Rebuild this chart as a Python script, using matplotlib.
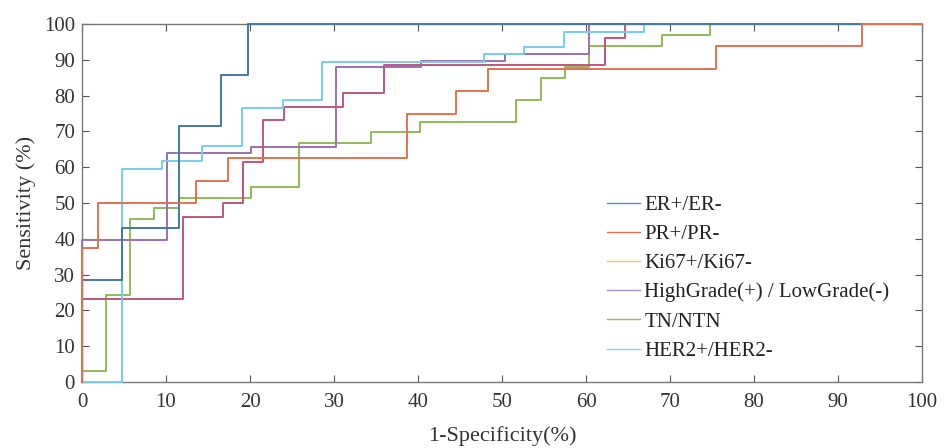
import matplotlib.pyplot as plt
from matplotlib.lines import Line2D

# ROC staircase corners (1-specificity %, sensitivity %), steps drawn 'post'
er_x = [0, 0, 4.8, 11.5, 16.5, 19.7, 100]
er_y = [0, 28.6, 42.9, 71.4, 85.7, 100, 100]

pr_x = [0, 0, 1.9, 13.6, 17.4, 38.7, 44.5, 48.3, 75.5, 92.9, 100]
pr_y = [0, 37.5, 50.0, 56.25, 62.5, 75.0, 81.25, 87.5, 93.75, 100, 100]

ki67_x = [0, 0, 12.0, 16.8, 19.2, 21.6, 24.0, 31.1, 35.9, 62.3, 64.7, 100]
ki67_y = [0, 23.1, 46.2, 50.0, 61.5, 73.1, 76.9, 80.8, 88.5, 96.2, 100, 100]

grade_x = [0, 0, 10.1, 20.1, 30.2, 40.4, 50.4, 60.4, 100]
grade_y = [0, 39.6, 63.9, 65.7, 87.9, 89.7, 91.5, 100, 100]

tn_x = [0, 0, 2.8, 5.7, 8.6, 11.5, 20.1, 25.8, 34.4, 40.2, 51.7, 54.6, 57.5, 60.4, 69.0, 74.8, 100]
tn_y = [0, 3.0, 24.2, 45.5, 48.5, 51.5, 54.5, 66.7, 69.7, 72.7, 78.8, 84.8, 87.9, 93.9, 97.0, 100, 100]

her2_x = [0, 4.8, 9.5, 14.3, 19.1, 23.9, 28.6, 47.8, 52.6, 57.4, 66.9, 100]
her2_y = [0, 59.6, 61.7, 66.0, 76.6, 78.7, 89.4, 91.5, 93.6, 97.9, 100, 100]

labels = ['ER+/ER-', 'PR+/PR-', 'Ki67+/Ki67-', 'HighGrade(+) / LowGrade(-)', 'TN/NTN', 'HER2+/HER2-']
line_colors = ['#44799f', '#e2724f', '#c2557f', '#9a72ae', '#90ba58', '#78cdec']
legend_colors = ['#4f93bd', '#db7257', '#ecc75a', '#a597c4', '#a2b45e', '#86d2ef']

plt.rcParams['font.family'] = ['Liberation Serif', 'DejaVu Serif']

fig = plt.figure(figsize=(9.44, 4.48), dpi=100)
ax = fig.add_axes([0.0869, 0.1473, 0.8898, 0.7991])

series = [(er_x, er_y), (pr_x, pr_y), (ki67_x, ki67_y),
          (grade_x, grade_y), (tn_x, tn_y), (her2_x, her2_y)]
# drawing order so that ER/PR sit on top, as in the picture
zorders = [6, 7, 4, 3, 2, 5]
for (x, y), c, z in zip(series, line_colors, zorders):
    ax.step(x, y, where='post', color=c, lw=1.4, zorder=z, clip_on=False)

ax.set_xlim(0, 100)
ax.set_ylim(0, 100)
ax.set_xticks(range(0, 101, 10))
ax.set_yticks(range(0, 101, 10))
ax.tick_params(direction='in', length=5, width=0.8, color='#555555',
               labelsize=15, labelcolor='#333333', top=True, right=True)
ax.tick_params(axis='x', pad=8)
ax.tick_params(axis='y', pad=5)
for s in ax.spines.values():
    s.set_color('#777777')
    s.set_linewidth(1.0)

ax.set_xlabel('1-Specificity(%)', fontsize=16, color='#333333', labelpad=10)
ax.set_ylabel('Sensitivity (%)', fontsize=16, color='#333333', labelpad=6)

handles = [Line2D([], [], color=c, lw=1.0) for c in legend_colors]
ax.legend(handles, labels, loc='upper left', bbox_to_anchor=(0.615, 0.545),
          frameon=False, fontsize=15, handlelength=1.6, handletextpad=0.2,
          labelspacing=0.46, borderaxespad=0, labelcolor='#222222')

fig.savefig('out.png', dpi=100)
